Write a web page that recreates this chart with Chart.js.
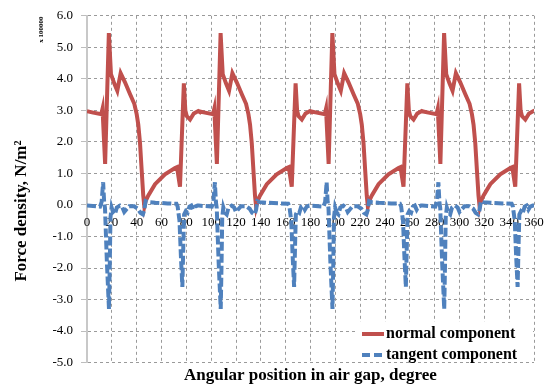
<!DOCTYPE html>
<html lang="en">
<head>
    <meta charset="UTF-8">
    <title>Force density in air gap</title>
    <script src="https://cdn.jsdelivr.net/npm/chart.js"></script>
    <style>
        body { margin: 0; background: #fff; }
    </style>
</head>
<body>
<canvas id="grafico" width="554" height="388"></canvas>
<script>
    // x 100000 N/m2, angle in degrees
    const normalAngles = [
        0, 5, 11.5, 12.5, 14.6, 17.6, 19.3, 22, 24.4, 27.1, 30.6, 34.6, 38.1, 40, 41.3, 42.7, 44, 45.3, 46.2, 47.2, 49.4, 54.8, 62.8, 70.9, 72.5, 74.9, 78, 79.2, 80.3, 83, 86, 89.6,
        90, 95, 101.5, 102.5, 104.6, 107.6, 109.3, 112, 114.4, 117.1, 120.6, 124.6, 128.1, 130, 131.3, 132.7, 134, 135.3, 136.2, 137.2, 139.4, 144.8, 152.8, 160.9, 162.5, 164.9, 168, 169.2, 170.3, 173, 176, 179.6,
        180, 185, 191.5, 192.5, 194.6, 197.6, 199.3, 202, 204.4, 207.1, 210.6, 214.6, 218.1, 220, 221.3, 222.7, 224, 225.3, 226.2, 227.2, 229.4, 234.8, 242.8, 250.9, 252.5, 254.9, 258, 259.2, 260.3, 263, 266, 269.6,
        270, 275, 281.5, 282.5, 284.6, 287.6, 289.3, 292, 294.4, 297.1, 300.6, 304.6, 308.1, 310, 311.3, 312.7, 314, 315.3, 316.2, 317.2, 319.4, 324.8, 332.8, 340.9, 342.5, 344.9, 348, 349.2, 350.3, 353, 356, 359.6,
        360
    ];
    const normalValues = [
        2.97, 2.93, 2.88, 3.05, 1.3, 5.45, 4.15, 3.85, 3.62, 4.18, 3.89, 3.52, 3.21, 2.88, 2.55, 1.96, 1.12, 0.3, -0.05, 0.12, 0.3, 0.66, 0.97, 1.17, 1.2, 0.58, 3.86, 3.0, 2.82, 2.71, 2.9, 2.98,
        2.97, 2.93, 2.88, 3.05, 1.3, 5.45, 4.15, 3.85, 3.62, 4.18, 3.89, 3.52, 3.21, 2.88, 2.55, 1.96, 1.12, 0.3, -0.05, 0.12, 0.3, 0.66, 0.97, 1.17, 1.2, 0.58, 3.86, 3.0, 2.82, 2.71, 2.9, 2.98,
        2.97, 2.93, 2.88, 3.05, 1.3, 5.45, 4.15, 3.85, 3.62, 4.18, 3.89, 3.52, 3.21, 2.88, 2.55, 1.96, 1.12, 0.3, -0.05, 0.12, 0.3, 0.66, 0.97, 1.17, 1.2, 0.58, 3.86, 3.0, 2.82, 2.71, 2.9, 2.98,
        2.97, 2.93, 2.88, 3.05, 1.3, 5.45, 4.15, 3.85, 3.62, 4.18, 3.89, 3.52, 3.21, 2.88, 2.55, 1.96, 1.12, 0.3, -0.05, 0.12, 0.3, 0.66, 0.97, 1.17, 1.2, 0.58, 3.86, 3.0, 2.82, 2.71, 2.9, 2.98,
        2.97
    ];
    const tangentAngles = [
        0, 10.5, 11.8, 13, 13.8, 14.5, 16, 17.7, 18.3, 18.9, 19.8, 21.2, 22.5, 24, 26.5, 28.5, 30, 31.5, 34, 38, 41, 43, 45, 46.2, 47.2, 49, 55, 65, 72, 73, 74.5, 75.6, 76.8, 77.5, 78.2, 79.5, 81, 82.5, 84, 85.5, 87, 89,
        90, 100.5, 101.8, 103, 103.8, 104.5, 106, 107.7, 108.3, 108.9, 109.8, 111.2, 112.5, 114, 116.5, 118.5, 120, 121.5, 124, 128, 131, 133, 135, 136.2, 137.2, 139, 145, 155, 162, 163, 164.5, 165.6, 166.8, 167.5, 168.2, 169.5, 171, 172.5, 174, 175.5, 177, 179,
        180, 190.5, 191.8, 193, 193.8, 194.5, 196, 197.7, 198.3, 198.9, 199.8, 201.2, 202.5, 204, 206.5, 208.5, 210, 211.5, 214, 218, 221, 223, 225, 226.2, 227.2, 229, 235, 245, 252, 253, 254.5, 255.6, 256.8, 257.5, 258.2, 259.5, 261, 262.5, 264, 265.5, 267, 269,
        270, 280.5, 281.8, 283, 283.8, 284.5, 286, 287.7, 288.3, 288.9, 289.8, 291.2, 292.5, 294, 296.5, 298.5, 300, 301.5, 304, 308, 311, 313, 315, 316.2, 317.2, 319, 325, 335, 342, 343, 344.5, 345.6, 346.8, 347.5, 348.2, 349.5, 351, 352.5, 354, 355.5, 357, 359,
        360
    ];
    const tangentValues = [
        -0.02, -0.05, 0.1, 0.72, 0.1, -0.1, -1.8, -3.3, -2.0, -0.4, -0.08, -0.25, -0.3, -0.08, -0.02, -0.08, -0.22, -0.15, -0.04, -0.04, -0.12, -0.25, -0.3, -0.15, 0.12, 0.09, 0.07, 0.05, 0.04, -0.05, -0.5, -1.6, -2.6, -1.4, -0.3, -0.2, -0.25, -0.05, -0.02, -0.15, -0.05, -0.02,
        -0.02, -0.05, 0.1, 0.72, 0.1, -0.1, -1.8, -3.3, -2.0, -0.4, -0.08, -0.25, -0.3, -0.08, -0.02, -0.08, -0.22, -0.15, -0.04, -0.04, -0.12, -0.25, -0.3, -0.15, 0.12, 0.09, 0.07, 0.05, 0.04, -0.05, -0.5, -1.6, -2.6, -1.4, -0.3, -0.2, -0.25, -0.05, -0.02, -0.15, -0.05, -0.02,
        -0.02, -0.05, 0.1, 0.72, 0.1, -0.1, -1.8, -3.3, -2.0, -0.4, -0.08, -0.25, -0.3, -0.08, -0.02, -0.08, -0.22, -0.15, -0.04, -0.04, -0.12, -0.25, -0.3, -0.15, 0.12, 0.09, 0.07, 0.05, 0.04, -0.05, -0.5, -1.6, -2.6, -1.4, -0.3, -0.2, -0.25, -0.05, -0.02, -0.15, -0.05, -0.02,
        -0.02, -0.05, 0.1, 0.72, 0.1, -0.1, -1.8, -3.3, -2.0, -0.4, -0.08, -0.25, -0.3, -0.08, -0.02, -0.08, -0.22, -0.15, -0.04, -0.04, -0.12, -0.25, -0.3, -0.15, 0.12, 0.09, 0.07, 0.05, 0.04, -0.05, -0.5, -1.6, -2.6, -1.4, -0.3, -0.2, -0.25, -0.05, -0.02, -0.15, -0.05, -0.02,
        -0.02
    ];
    const seriesNames = ['normal component', 'tangent component'];
    const seriesColors = ['#C0504D', '#4F81BD'];

    const serif = '"Liberation Serif", "Times New Roman", serif';

    function pares(angulos, valores) {
        return angulos.map((a, i) => ({ x: a, y: valores[i] }));
    }

    // tick labels on the zero line, rotated titles and the legend box
    const extras = {
        id: 'extras',
        beforeDatasetsDraw(chart) {
            const { ctx, scales: { x, y } } = chart;
            const y0 = y.getPixelForValue(0);
            ctx.save();
            ctx.font = '13px ' + serif;
            ctx.fillStyle = '#000';
            ctx.textAlign = 'center';
            ctx.textBaseline = 'top';
            x.ticks.forEach(t => ctx.fillText(String(t.value), x.getPixelForValue(t.value), y0 + 11));
            ctx.restore();
        },
        afterDraw(chart) {
            const { ctx } = chart;
            ctx.save();
            ctx.fillStyle = '#000';
            ctx.textAlign = 'center';
            ctx.textBaseline = 'middle';

            ctx.save();
            ctx.translate(22, 211);
            ctx.rotate(-Math.PI / 2);
            ctx.font = 'bold 17px ' + serif;
            ctx.fillText('Force density, N/m²', 0, 0);
            ctx.restore();

            ctx.save();
            ctx.translate(41.5, 29.5);
            ctx.rotate(-Math.PI / 2);
            ctx.font = 'bold 7px ' + serif;
            ctx.fillText('x 100000', 0, 0);
            ctx.restore();

            // legend
            ctx.fillStyle = '#fff';
            ctx.fillRect(357, 322, 176, 39);
            ctx.font = 'bold 16px ' + serif;
            ctx.textAlign = 'left';
            ctx.lineWidth = 4;
            const filas = [334, 355];
            filas.forEach((ly, i) => {
                ctx.strokeStyle = seriesColors[i];
                ctx.setLineDash(i === 1 ? [8, 4] : []);
                ctx.beginPath();
                ctx.moveTo(362, ly);
                ctx.lineTo(384, ly);
                ctx.stroke();
                ctx.fillStyle = '#000';
                ctx.fillText(seriesNames[i], 386, ly);
            });
            ctx.restore();
        }
    };

    new Chart(document.getElementById('grafico'), {
        type: 'line',
        data: {
            datasets: [{
                label: seriesNames[0],
                data: pares(normalAngles, normalValues),
                borderColor: seriesColors[0],
                borderWidth: 4,
                pointRadius: 0,
                tension: 0,
                order: 2
            }, {
                label: seriesNames[1],
                data: pares(tangentAngles, tangentValues),
                borderColor: seriesColors[1],
                borderWidth: 4,
                borderDash: [9, 3],
                pointRadius: 0,
                tension: 0,
                order: 1
            }]
        },
        options: {
            responsive: false,
            animation: false,
            layout: { padding: { top: 11, right: 20, bottom: 0, left: 0 } },
            plugins: {
                legend: { display: false },
                tooltip: { enabled: false }
            },
            scales: {
                x: {
                    type: 'linear',
                    min: 0,
                    max: 360,
                    ticks: { stepSize: 20, display: false },
                    grid: { color: '#9a9a9a', lineWidth: 1, drawTicks: false },
                    border: { display: false, dash: [3, 3] },
                    title: {
                        display: true,
                        text: 'Angular position in air gap, degree',
                        color: '#000',
                        font: { family: serif, size: 17, weight: 'bold' },
                        padding: { top: 3, bottom: 2 }
                    }
                },
                y: {
                    min: -5,
                    max: 6,
                    ticks: {
                        stepSize: 1,
                        color: '#000',
                        padding: 8,
                        font: { family: serif, size: 13 },
                        callback: v => v.toFixed(1)
                    },
                    grid: { color: '#9a9a9a', lineWidth: 1, tickLength: 6, tickColor: '#bdbdbd' },
                    border: { display: true, color: '#c8c8c8', width: 2, dash: [3, 3] },
                    afterFit: s => { s.width = 87; }
                }
            }
        },
        plugins: [extras]
    });
</script>
</body>
</html>
